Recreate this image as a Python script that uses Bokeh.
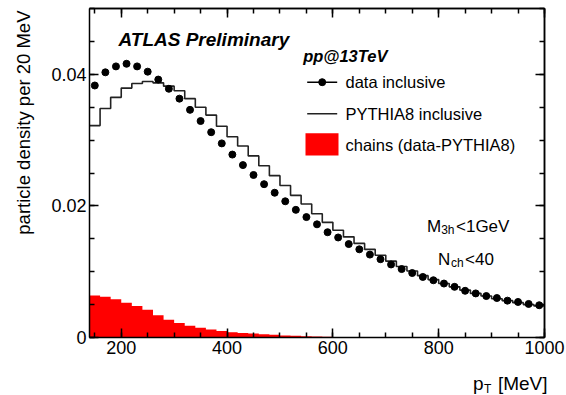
import numpy as np
from bokeh.plotting import figure
from bokeh.models import Range1d, LinearAxis, FixedTicker, Label
from bokeh.embed import file_html
from bokeh.resources import INLINE

# ---------------- data ----------------
bin_edges = list(range(140, 1001, 20))          # 20 MeV bins, 140..1000
pt_centers = [e + 10 for e in bin_edges[:-1]]

data_inclusive = [0.0383, 0.0403, 0.0412, 0.0416, 0.0412, 0.0404, 0.0392, 0.0378,
                  0.0363, 0.0346, 0.0329, 0.0312, 0.0295, 0.0278, 0.0262, 0.0247,
                  0.0233, 0.0220, 0.0207, 0.0194, 0.0183, 0.0172, 0.0160, 0.0152,
                  0.0142, 0.0134, 0.0126, 0.0119, 0.0111, 0.0104, 0.0098, 0.0092,
                  0.0087, 0.0082, 0.0077, 0.0071, 0.0067, 0.0063, 0.0060, 0.0056,
                  0.0054, 0.0051, 0.0049]

pythia_inclusive = [0.0322, 0.0348, 0.0365, 0.0379, 0.0386, 0.0389, 0.0387, 0.0382,
                    0.0375, 0.0363, 0.0350, 0.0338, 0.0321, 0.0305, 0.0291, 0.0276,
                    0.0261, 0.0246, 0.0231, 0.0216, 0.0203, 0.0188, 0.0175, 0.0163,
                    0.0153, 0.0143, 0.0134, 0.0125, 0.0116, 0.0108, 0.0101, 0.0094,
                    0.0088, 0.0082, 0.0077, 0.0072, 0.0067, 0.0063, 0.0059, 0.0056,
                    0.0053, 0.0050, 0.0048]

chains = [0.0064, 0.0062, 0.0058, 0.0053, 0.0048, 0.0042, 0.0034, 0.0027,
          0.0022, 0.0018, 0.0015, 0.0012, 0.0010, 0.0008, 0.0007, 0.0006,
          0.0005, 0.0004, 0.0003, 0.00025, 0.0002, 0.00015, 0.0001, 0.00008,
          0.00006, 0.00005, 0.00004, 0.00004, 0.00003, 0.00003, 0.00003, 0.00002,
          0.00002, 0.00002, 0.00002, 0.00001, 0.00001, 0.00001, 0.00001, 0.00001,
          0.00001, 0.00001, 0.00001]

x_major_ticks = [200, 400, 600, 800, 1000]
x_minor_ticks = list(range(150, 1001, 50))
y_major_ticks = [0, 0.02, 0.04]
y_tick_labels = ["0", "0.02", "0.04"]
y_minor_ticks = [round(0.005 * i, 3) for i in range(11)]

legend_labels = ["data inclusive", "PYTHIA8 inclusive", "chains (data-PYTHIA8)"]

# ---------------- layout ----------------
W, H = 566, 395
X0, X1 = 140, 1000          # axis extent
Y0, Y1 = 0.0, 0.05
PX_L, PX_R, PX_T, PX_B = 89, 544, 8, 337   # where the axis box sits on the page
FONT = "Liberation Sans"

sx = (X1 - X0) / (PX_R - PX_L)
sy = (Y1 - Y0) / (PX_B - PX_T)
x_start, x_end = X0 - PX_L * sx, X1 + (W - PX_R) * sx
y_start, y_end = Y0 - (H - PX_B) * sy, Y1 + PX_T * sy


def xd(px):
    return x_start + px * sx


def yd(py):
    return y_end - py * sy


p = figure(width=W, height=H, x_range=Range1d(x_start, x_end),
           y_range=Range1d(y_start, y_end),
           output_backend="svg", toolbar_location=None,
           min_border_left=0, min_border_right=0, min_border_top=0, min_border_bottom=0)
p.grid.visible = False
p.background_fill_color = "white"
p.border_fill_color = "white"
p.outline_line_color = None


def style_axis(ax, ticks, minor, loc, bounds, tin=9, minor_in=5):
    ax.fixed_location = loc
    ax.bounds = bounds
    ax.ticker = FixedTicker(ticks=ticks, minor_ticks=minor)
    ax.axis_line_color = "black"
    ax.axis_line_width = 1.5
    ax.major_tick_line_color = "black"
    ax.major_tick_line_width = 1.5
    ax.minor_tick_line_color = "black"
    ax.minor_tick_line_width = 1.5
    ax.major_tick_in = tin
    ax.major_tick_out = 0
    ax.minor_tick_in = minor_in
    ax.minor_tick_out = 0
    ax.major_label_text_font = FONT
    ax.major_label_text_color = "black"
    ax.major_label_text_font_size = "18px"
    ax.major_label_standoff = 3


# bottom and left axes (with labels)
style_axis(p.xaxis[0], x_major_ticks, x_minor_ticks, Y0, (X0, X1))
style_axis(p.yaxis[0], y_major_ticks, y_minor_ticks, X0, (Y0, Y1))
p.yaxis[0].major_label_overrides = {v: s for v, s in zip(y_major_ticks, y_tick_labels)}

# top and right axes: ticks only (major ticks drawn as long "minor" ticks, no labels)
for side, loc, bnds, majors, minors in [("above", Y1, (X0, X1), x_major_ticks, x_minor_ticks),
                                        ("right", X1, (Y0, Y1), y_major_ticks, y_minor_ticks)]:
    a1 = LinearAxis()
    style_axis(a1, [], minors, loc, bnds)
    p.add_layout(a1, side)
    a2 = LinearAxis()
    style_axis(a2, [], majors, loc, bnds, minor_in=9)
    p.add_layout(a2, side)

# ---------------- glyphs ----------------
p.varea_step(x=bin_edges, y1=[0] * len(bin_edges), y2=chains + [chains[-1]],
             step_mode="after", fill_color="#ff0000")
p.step(x=bin_edges, y=pythia_inclusive + [pythia_inclusive[-1]], mode="after",
       line_color="#222222", line_width=1.6)
p.scatter(x=pt_centers, y=data_inclusive, size=7, color="black")

# ---------------- legend (drawn by hand) ----------------
p.line(x=[xd(306.7), xd(336.7)], y=[yd(81.7), yd(81.7)], line_color="black", line_width=1.5)
p.scatter(x=[xd(321.7)], y=[yd(81.7)], size=7, color="black")
p.line(x=[xd(306.7), xd(336.7)], y=[yd(113.3), yd(113.3)], line_color="#222222", line_width=1.6)
p.quad(left=[xd(305)], right=[xd(338)], bottom=[yd(155)], top=[yd(132.7)],
       fill_color="#ff0000", line_color=None)
for lab_text, py in zip(legend_labels, [81.7, 113.3, 144.0]):
    p.add_layout(Label(x=xd(345), y=yd(py), text=lab_text, text_font=FONT,
                       text_font_size="16.5px", text_align="left",
                       text_baseline="middle", text_color="black"))


def lab(text, px, py, size, style="normal", align="left", baseline="alphabetic", angle=0.0):
    p.add_layout(Label(x=xd(px), y=yd(py), text=text, text_font=FONT,
                       text_font_size=size, text_font_style=style, text_align=align,
                       text_baseline=baseline, angle=angle, text_color="black"))


lab("ATLAS Preliminary", 118, 39.3, "19px", "bold italic")
lab("pp@13TeV", 302.7, 55.5, "16.5px", "bold italic")

lab("M", 426.5, 226.3, "17px")
lab("3h", 440.7, 229, "12px")
lab("<1GeV", 455.5, 226.3, "17px")
lab("N", 437.5, 259.3, "17px")
lab("ch", 450.5, 262.5, "12px")
lab("<40", 464.5, 259.3, "17px")

# axis titles
lab("[MeV]", 547, 383, "19px", align="right")
lab("T", 483.5, 388, "12px")
lab("p", 472.5, 383, "19px")
lab("particle density per 20 MeV", 23, 10, "18.5px", align="right", baseline="middle",
    angle=np.pi / 2)

open("out.html", "w").write(file_html(p, INLINE))
